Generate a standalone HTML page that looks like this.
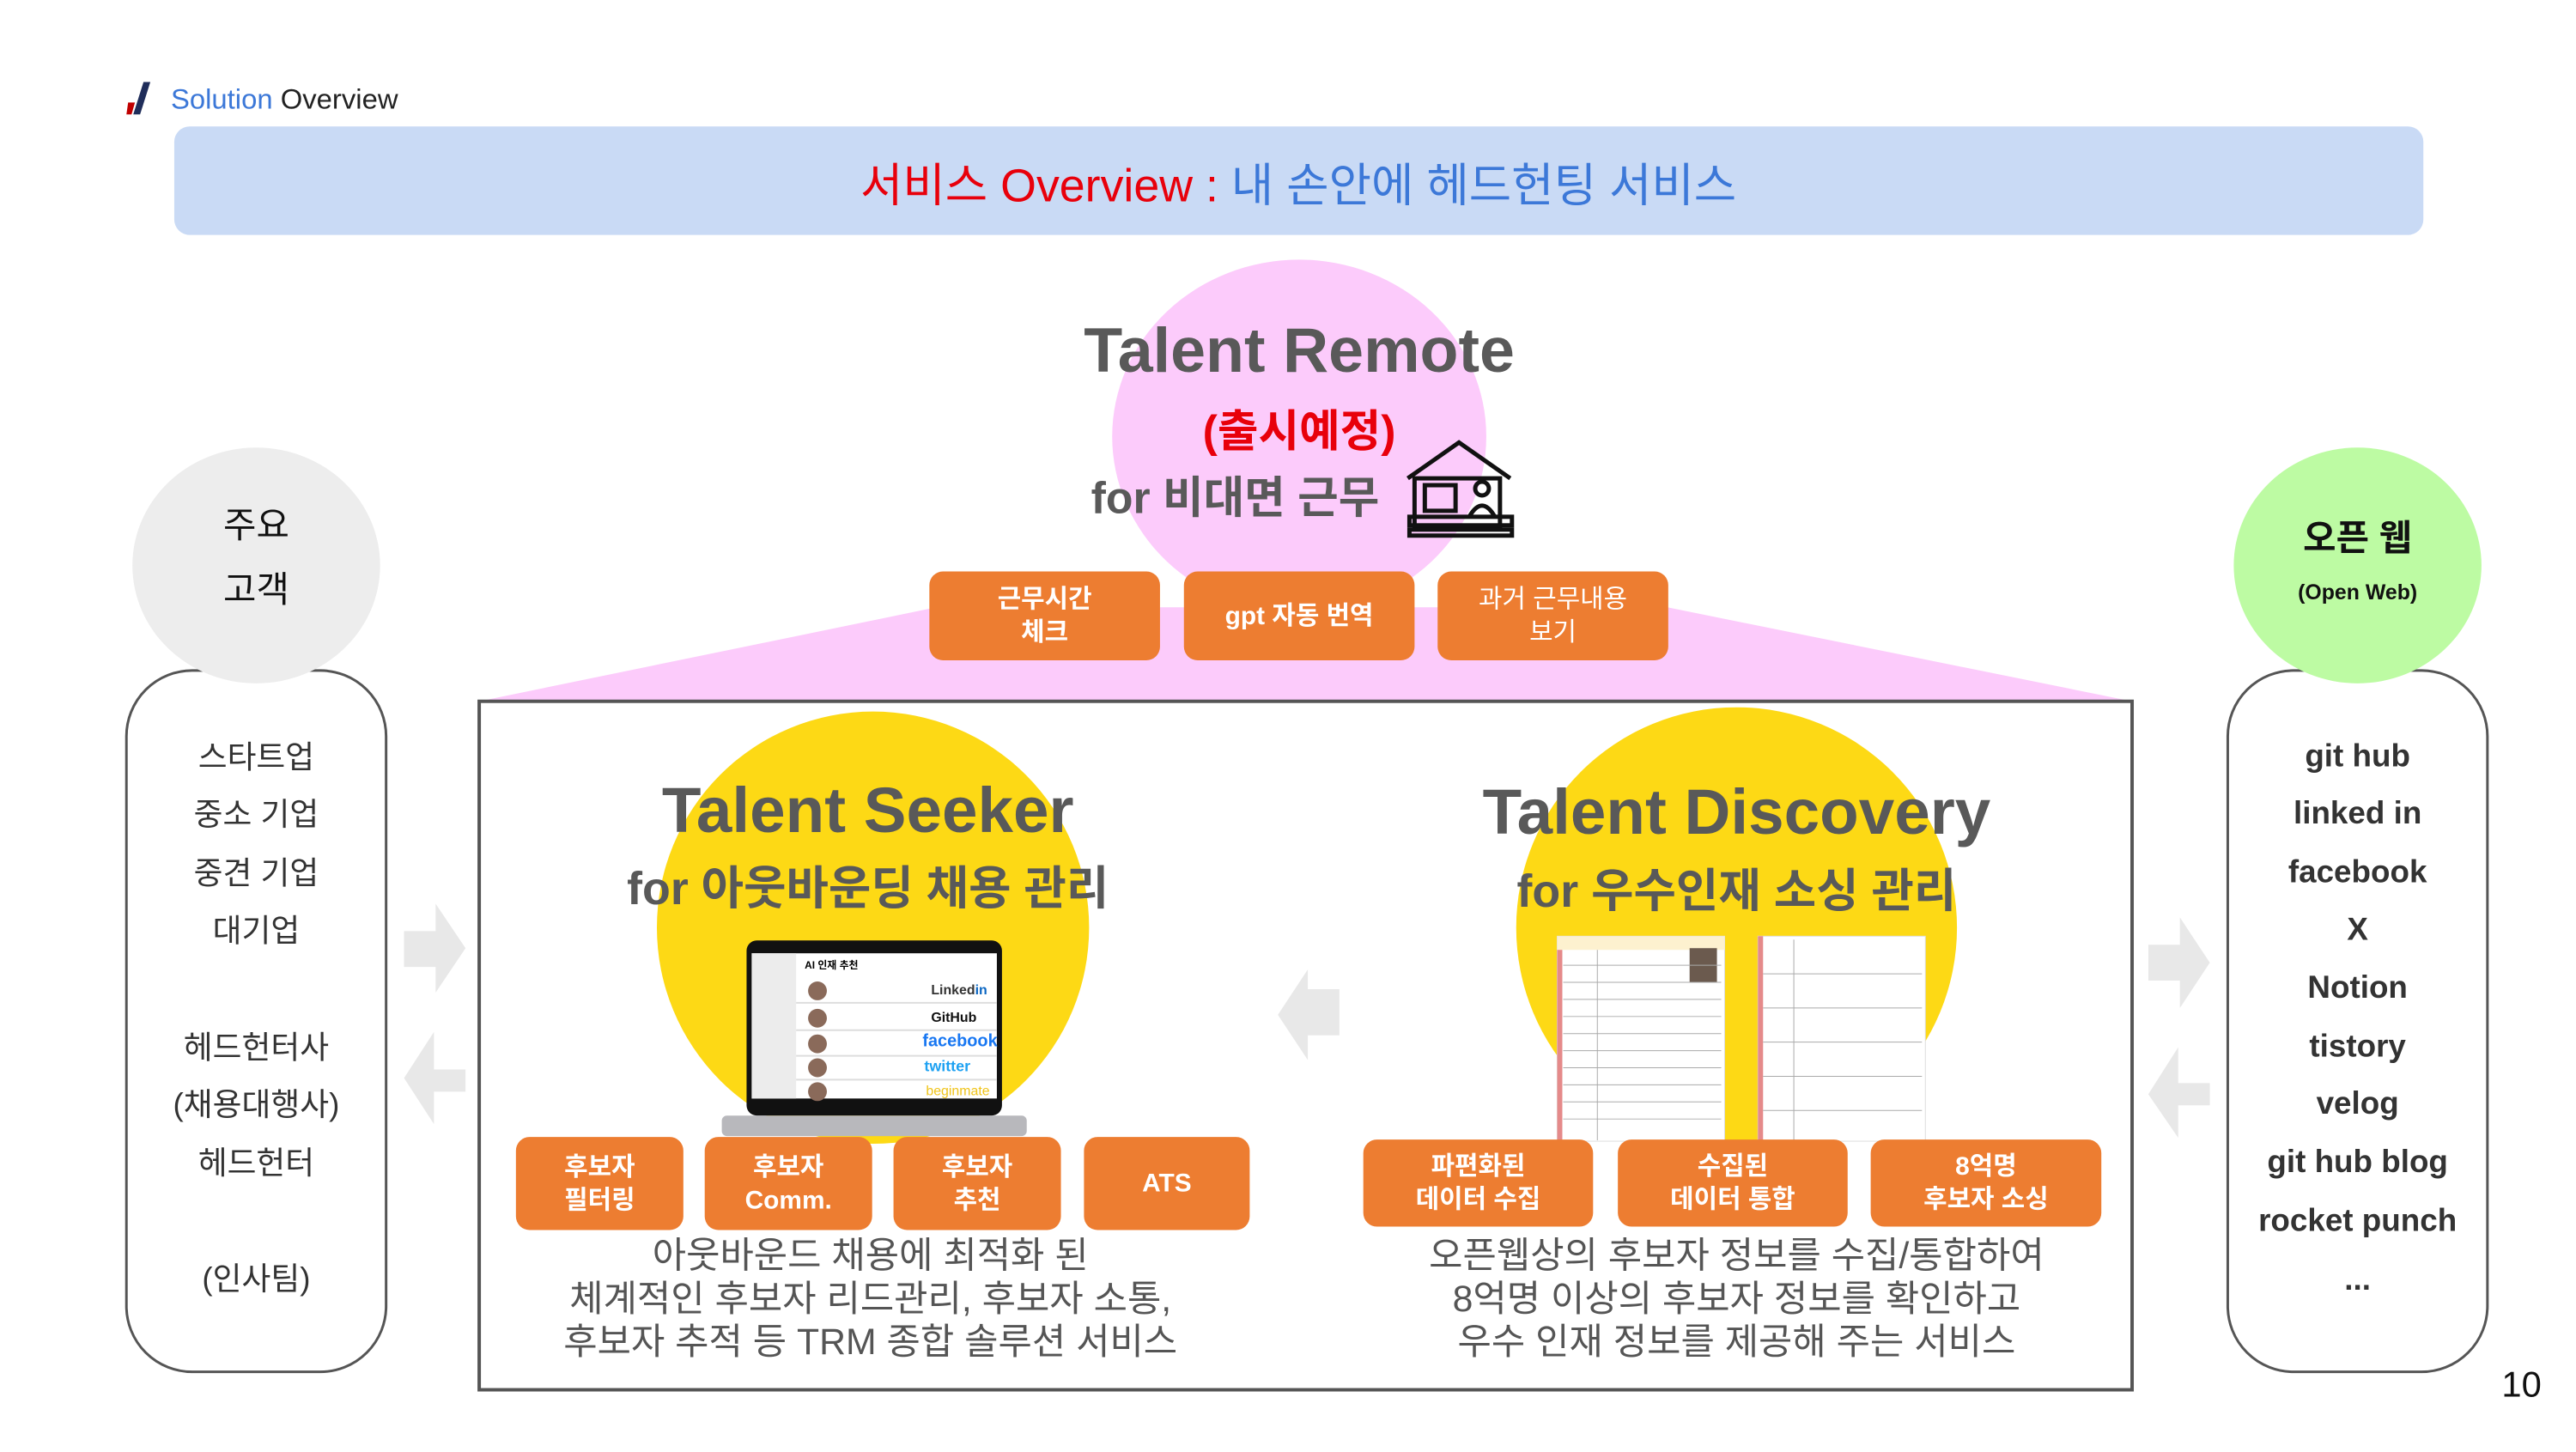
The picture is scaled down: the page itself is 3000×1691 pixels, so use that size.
<!DOCTYPE html>
<html><head><meta charset="utf-8"><style>
body{margin:0;width:3000px;height:1688px;background:#fff;position:relative;overflow:hidden;font-family:"Liberation Sans","Noto Sans CJK KR",sans-serif}
#w{position:absolute;left:0;top:0;width:3000px;height:1700px;transform:scale(0.9948);transform-origin:0 0}
.t{position:absolute;white-space:nowrap;text-align:center;transform:translate(-50%,-50%)}
.ob{position:absolute;background:#ed7d31;border-radius:16px;color:#fff;font-weight:bold;font-size:30px;display:flex;align-items:center;justify-content:center;text-align:center;line-height:1.3}
svg{position:absolute;left:0;top:0}
</style></head><body><div id="w">
<svg width="3000" height="1700">
<ellipse cx="1521" cy="511" rx="219" ry="207" fill="#fccbfb"/>
<polygon points="561,821 2496,821 1952,711 1096,711" fill="#fccbfb"/>
<rect x="148" y="785" width="304" height="821" rx="77" fill="none" stroke="#555" stroke-width="3"/>
<rect x="2608" y="785" width="304" height="821" rx="77" fill="none" stroke="#555" stroke-width="3"/>
<ellipse cx="300" cy="662" rx="145" ry="138" fill="#ededed"/>
<ellipse cx="2760" cy="662" rx="145" ry="138" fill="#bdfba3"/>
<rect x="561" y="821" width="1935" height="806" fill="#fff" stroke="#555" stroke-width="4"/>
<circle cx="1022" cy="1086" r="253" fill="#fdd915"/>
<circle cx="2033" cy="1086" r="258" fill="#fdd915"/>
<polygon points="150,120 158,120 154,134 148,134" fill="#c00000"/>
<polygon points="168,96 176,96 164,134 156,134" fill="#1f2d5a"/>
<g fill="#e8e8e8">
<polygon points="473,1090 510,1090 510,1058 545,1110 510,1162 510,1132 473,1132"/>
<polygon points="545,1252 508,1252 508,1208 473,1262 508,1316 508,1278 545,1278"/>
<polygon points="1568,1158 1531,1158 1531,1135 1496,1188 1531,1241 1531,1212 1568,1212"/>
<polygon points="2515,1106 2552,1106 2552,1074 2587,1127 2552,1180 2552,1148 2515,1148"/>
<polygon points="2587,1268 2550,1268 2550,1226 2515,1281 2550,1332 2550,1294 2587,1294"/>
</g>
<g fill="none" stroke="#111" stroke-width="5">
<polyline points="1648,560 1708,518 1768,560"/>
<rect x="1656" y="560" width="100" height="56"/>
<rect x="1668" y="568" width="36" height="30"/>
<circle cx="1735" cy="572" r="8"/>
<path d="M1720,605 q15,-26 30,0"/>
<rect x="1650" y="605" width="120" height="10"/>
<rect x="1650" y="620" width="120" height="7"/>
</g>
<rect x="874" y="1101" width="299" height="205" rx="12" fill="#111"/>
<rect x="880" y="1116" width="287" height="170" fill="#fff"/>
<rect x="880" y="1116" width="52" height="170" fill="#ececec"/>
<text x="942" y="1134" font-size="12" font-weight="bold" font-family="Liberation Sans,Noto Sans CJK KR,sans-serif">AI 인재 추천</text>
<g font-size="16" font-weight="bold" font-family="Liberation Sans,sans-serif">
<text x="1090" y="1164" fill="#333">Linked<tspan fill="#0a66c2">in</tspan></text>
<text x="1090" y="1196" fill="#111">GitHub</text>
<text x="1080" y="1225" fill="#1877f2" font-size="20">facebook</text>
<text x="1082" y="1254" fill="#1da1f2" font-size="18">twitter</text>
<text x="1084" y="1282" fill="#f0c419" font-size="16" font-weight="normal">beginmate</text>
</g>
<g fill="#8a6a5a"><circle cx="957" cy="1160" r="11"/><circle cx="957" cy="1192" r="11"/><circle cx="957" cy="1222" r="11"/><circle cx="957" cy="1250" r="11"/><circle cx="957" cy="1278" r="11"/></g>
<g stroke="#ddd" stroke-width="2"><line x1="932" y1="1174" x2="1167" y2="1174"/><line x1="932" y1="1206" x2="1167" y2="1206"/><line x1="932" y1="1236" x2="1167" y2="1236"/><line x1="932" y1="1264" x2="1167" y2="1264"/></g>
<rect x="845" y="1306" width="357" height="24" rx="6" fill="#b8b8bc"/>
<g>
<rect x="1823" y="1096" width="196" height="240" fill="#fff" stroke="#ddd"/>
<rect x="1823" y="1096" width="196" height="16" fill="#fdf1cf"/>
<rect x="1823" y="1112" width="6" height="224" fill="#e58a8a"/>
<rect x="2058" y="1096" width="196" height="240" fill="#fff" stroke="#ddd"/>
<rect x="2058" y="1096" width="6" height="240" fill="#e58a8a"/>
<rect x="1978" y="1110" width="32" height="40" fill="#6b5a4e"/>
<g stroke="#aaa" stroke-width="1">
<line x1="1830" y1="1130" x2="2015" y2="1130"/><line x1="1830" y1="1150" x2="2015" y2="1150"/><line x1="1830" y1="1170" x2="2015" y2="1170"/><line x1="1830" y1="1190" x2="2015" y2="1190"/><line x1="1830" y1="1210" x2="2015" y2="1210"/><line x1="1830" y1="1230" x2="2015" y2="1230"/><line x1="1830" y1="1250" x2="2015" y2="1250"/><line x1="1830" y1="1270" x2="2015" y2="1270"/><line x1="1830" y1="1290" x2="2015" y2="1290"/><line x1="1830" y1="1310" x2="2015" y2="1310"/>
<line x1="2064" y1="1140" x2="2250" y2="1140"/><line x1="2064" y1="1180" x2="2250" y2="1180"/><line x1="2064" y1="1220" x2="2250" y2="1220"/><line x1="2064" y1="1260" x2="2250" y2="1260"/><line x1="2064" y1="1300" x2="2250" y2="1300"/>
<line x1="2100" y1="1100" x2="2100" y2="1335"/><line x1="1870" y1="1112" x2="1870" y2="1335"/>
</g></g>
</svg>

<div class="t" style="top:116px;font-size:33px;color:#222;transform:translate(0,-50%);left:200px"><span style="color:#3c78d8">Solution</span> Overview</div>
<div style="position:absolute;left:204px;top:148px;width:2633px;height:127px;background:#c9daf5;border-radius:18px"></div>
<div class="t" style="left:1520px;top:212px;font-size:54px"><span style="color:#e8000b">서비스 Overview :</span><span style="color:#3c78d8"> 내 손안에 헤드헌팅 서비스</span></div>

<div class="t" style="left:1521px;top:410px;font-size:74px;font-weight:bold;color:#595959">Talent Remote</div>
<div class="t" style="left:1521px;top:500px;font-size:52px;font-weight:bold;color:#e8000b">(출시예정)</div>
<div class="t" style="left:1446px;top:578px;font-size:52px;font-weight:bold;color:#595959">for 비대면 근무</div>

<div class="ob" style="left:1088px;top:669px;width:270px;height:104px">근무시간<br>체크</div>
<div class="ob" style="left:1386px;top:669px;width:270px;height:104px">gpt 자동 번역</div>
<div class="ob" style="left:1683px;top:669px;width:270px;height:104px;font-weight:normal">과거 근무내용<br>보기</div>

<div class="t" style="left:300px;top:612px;font-size:42px;color:#111">주요</div>
<div class="t" style="left:300px;top:687px;font-size:42px;color:#111">고객</div>
<div class="t" style="left:2760px;top:627px;font-size:42px;font-weight:bold;color:#111">오픈 웹</div>
<div class="t" style="left:2760px;top:694px;font-size:25px;font-weight:bold;color:#111">(Open Web)</div>

<div style="font-size:37px;color:#333">
<div class="t" style="left:300px;top:883px">스타트업</div>
<div class="t" style="left:300px;top:950px">중소 기업</div>
<div class="t" style="left:300px;top:1019px">중견 기업</div>
<div class="t" style="left:300px;top:1086px">대기업</div>
<div class="t" style="left:300px;top:1223px">헤드헌터사</div>
<div class="t" style="left:300px;top:1290px">(채용대행사)</div>
<div class="t" style="left:300px;top:1358px">헤드헌터</div>
<div class="t" style="left:300px;top:1494px">(인사팀)</div>
</div>
<div style="font-size:37px;color:#333;font-weight:bold">
<div class="t" style="left:2760px;top:885px">git hub</div>
<div class="t" style="left:2760px;top:952px">linked in</div>
<div class="t" style="left:2760px;top:1021px">facebook</div>
<div class="t" style="left:2760px;top:1088px">X</div>
<div class="t" style="left:2760px;top:1156px">Notion</div>
<div class="t" style="left:2760px;top:1225px">tistory</div>
<div class="t" style="left:2760px;top:1292px">velog</div>
<div class="t" style="left:2760px;top:1360px">git hub blog</div>
<div class="t" style="left:2760px;top:1429px">rocket punch</div>
<div class="t" style="left:2760px;top:1498px">...</div>
</div>

<div class="t" style="left:1016px;top:948px;font-size:75px;font-weight:bold;color:#595959">Talent Seeker</div>
<div class="t" style="left:1016px;top:1035px;font-size:54px;font-weight:bold;color:#595959">for 아웃바운딩 채용 관리</div>
<div class="t" style="left:2033px;top:950px;font-size:75px;font-weight:bold;color:#595959">Talent Discovery</div>
<div class="t" style="left:2033px;top:1038px;font-size:54px;font-weight:bold;color:#595959">for 우수인재 소싱 관리</div>

<div class="ob" style="left:604px;top:1331px;width:196px;height:109px">후보자<br>필터링</div>
<div class="ob" style="left:825px;top:1331px;width:196px;height:109px">후보자<br>Comm.</div>
<div class="ob" style="left:1046px;top:1331px;width:196px;height:109px">후보자<br>추천</div>
<div class="ob" style="left:1269px;top:1331px;width:194px;height:109px">ATS</div>
<div class="ob" style="left:1596px;top:1334px;width:269px;height:102px">파편화된<br>데이터 수집</div>
<div class="ob" style="left:1894px;top:1334px;width:269px;height:102px">수집된<br>데이터 통합</div>
<div class="ob" style="left:2190px;top:1334px;width:270px;height:102px">8억명<br>후보자 소싱</div>

<div style="font-size:43px;color:#555">
<div class="t" style="left:1019px;top:1466px">아웃바운드 채용에 최적화 된</div>
<div class="t" style="left:1019px;top:1517px">체계적인 후보자 리드관리, 후보자 소통,</div>
<div class="t" style="left:1019px;top:1567px">후보자 추적 등 TRM 종합 솔루션 서비스</div>
<div class="t" style="left:2033px;top:1466px">오픈웹상의 후보자 정보를 수집/통합하여</div>
<div class="t" style="left:2033px;top:1517px">8억명 이상의 후보자 정보를 확인하고</div>
<div class="t" style="left:2033px;top:1567px">우수 인재 정보를 제공해 주는 서비스</div>
</div>
<div class="t" style="left:2952px;top:1621px;font-size:42px;color:#111">10</div>
</div></body></html>
